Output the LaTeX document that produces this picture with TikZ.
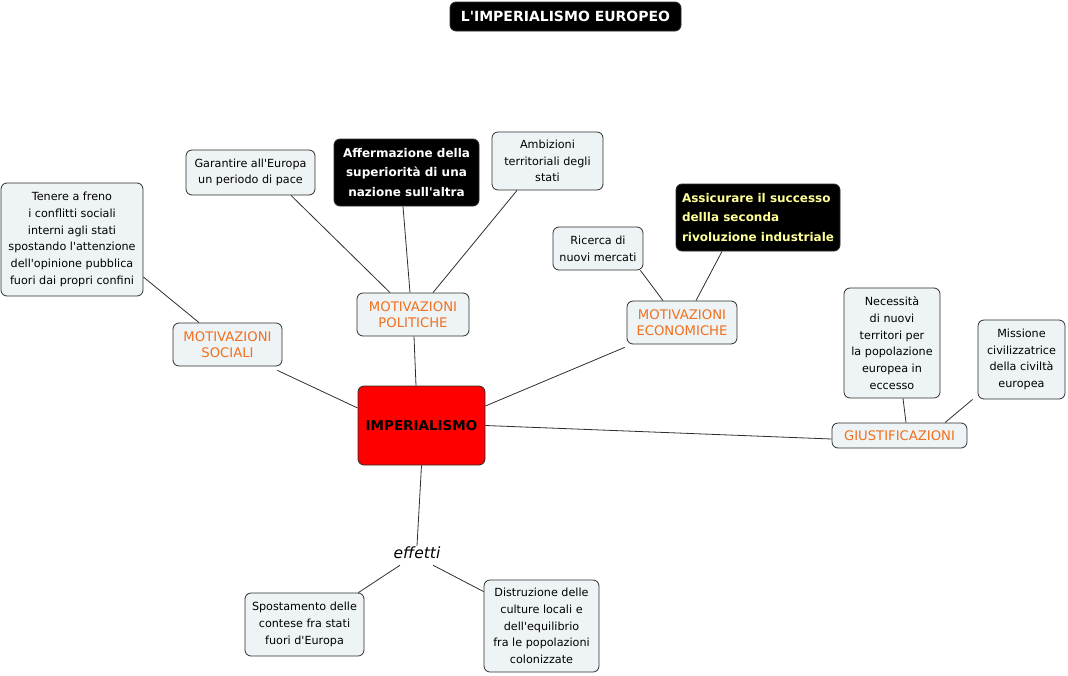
\documentclass[tikz,border=0pt]{standalone}
\usepackage{fontspec}
\setmainfont{DejaVu Sans}
\usetikzlibrary{calc}
\newcommand{\ap}{\textquotesingle}
\definecolor{boxfill}{HTML}{EEF3F5}
\definecolor{boxline}{HTML}{2E2E2E}
\definecolor{orangetxt}{HTML}{F0701E}
\definecolor{yellowtxt}{HTML}{FFFF99}
\tikzset{
  base/.style={rounded corners=6pt, draw=boxline, line width=0.8pt, inner sep=0pt, align=center,
    font=\fontsize{11.2}{16.8}\selectfont},
  lightbox/.style={base, fill=boxfill, text=black},
  catbox/.style={base, fill=boxfill, text=orangetxt, font=\fontsize{13.2}{16}\selectfont},
  darkbox/.style={base, fill=black, text=white, font=\bfseries\fontsize{12}{19.5}\selectfont},
  link/.style={draw=boxline, line width=0.8pt},
}
\begin{document}
\begin{tikzpicture}[x=1pt,y=-1pt]
\useasboundingbox (0,0) rectangle (1068,675);
% title
\node[base, fill=black, text=white, font=\bfseries\fontsize{14}{16}\selectfont,
  minimum width=231pt, minimum height=29pt] (title) at (565.5,16.5) {L\ap IMPERIALISMO EUROPEO};
% nodes
\node[lightbox, minimum width=142pt, minimum height=113pt] (ten) at (72,239.5)
  {Tenere a freno\\i conflitti sociali\\interni agli stati\\spostando l\ap attenzione\\dell\ap opinione pubblica\\fuori dai propri confini};
\node[lightbox, minimum width=129pt, minimum height=45pt] (gar) at (250.5,172.5)
  {Garantire all\ap Europa\\un periodo di pace};
\node[darkbox, minimum width=145pt, minimum height=67pt] (aff) at (406.5,172.5)
  {Affermazione della\\superiorità di una\\nazione sull\ap altra};
\node[lightbox, minimum width=111pt, minimum height=58pt] (amb) at (547.5,161)
  {Ambizioni\\territoriali degli\\stati};
\node[catbox, minimum width=112pt, minimum height=43pt] (pol) at (413,314.5)
  {MOTIVAZIONI\\POLITICHE};
\node[catbox, minimum width=109pt, minimum height=43pt] (soc) at (227.5,344.5)
  {MOTIVAZIONI\\SOCIALI};
\node[lightbox, minimum width=90pt, minimum height=43pt] (ric) at (598,248.5)
  {Ricerca di\\nuovi mercati};
\node[darkbox, text=yellowtxt, align=left, minimum width=164pt, minimum height=67pt] (ass) at (758,217.5)
  {Assicurare il successo\\dellla seconda\\rivoluzione industriale};
\node[catbox, minimum width=110pt, minimum height=43pt] (eco) at (682,322.5)
  {MOTIVAZIONI\\ECONOMICHE};
\node[lightbox, minimum width=96pt, minimum height=110pt] (nec) at (892,343)
  {Necessità\\di nuovi\\territori per\\la popolazione\\europea in\\eccesso};
\node[lightbox, minimum width=87pt, minimum height=79pt] (mis) at (1021.5,359.5)
  {Missione\\civilizzatrice\\della civiltà\\europea};
\node[catbox, minimum width=135pt, minimum height=25pt] (giu) at (899.5,435.5)
  {GIUSTIFICAZIONI};
\node[base, fill=red, text=black, font=\bfseries\fontsize{13.5}{15}\selectfont,
  minimum width=127pt, minimum height=79pt] (imp) at (421.5,425.5) {IMPERIALISMO};
\node[inner sep=1pt, font=\itshape\fontsize{15.5}{17}\selectfont] (eff) at (417,553) {effetti};
\node[lightbox, minimum width=119pt, minimum height=63pt] (spo) at (304.5,624.5)
  {Spostamento delle\\contese fra stati\\fuori d\ap Europa};
\node[lightbox, minimum width=115pt, minimum height=92pt] (dis) at (541.5,626)
  {Distruzione delle\\culture locali e\\dell\ap equilibrio\\fra le popolazioni\\colonizzate};
% connectors
\draw[link] ([yshift=-37.5pt]ten.east) -- ([xshift=-28.5pt]soc.north);
\draw[link] ([yshift=-4pt,xshift=-5pt]soc.south east) -- ([yshift=17.5pt]imp.west);
\draw[link] ([xshift=40.5pt]gar.south) -- ([xshift=-23pt]pol.north);
\draw[link] ([xshift=-3.5pt]aff.south) -- ([xshift=-3pt]pol.north);
\draw[link] ([xshift=-30.5pt]amb.south) -- ([xshift=20pt]pol.north);
\draw[link] ([xshift=1pt]pol.south) -- ([xshift=-5.5pt]imp.north);
\draw[link] ([xshift=-3pt]ric.south east) -- ([xshift=-19pt]eco.north);
\draw[link] ([xshift=-36pt]ass.south) -- ([xshift=14pt]eco.north);
\draw[link] ([xshift=-2pt,yshift=-3pt]eco.south west) -- ([yshift=19.5pt]imp.east);
\draw[link] (imp.east) -- ([yshift=-3.5pt]giu.west);
\draw[link] ([xshift=11pt]nec.south) -- ([xshift=6.5pt]giu.north);
\draw[link] ([xshift=-5pt]mis.south west) -- ([xshift=45.5pt]giu.north);
\draw[link] (imp.south) -- (eff.north);
\draw[link] ([xshift=-17pt,yshift=-5pt]eff.south) -- ([xshift=-6pt]spo.north east);
\draw[link] ([xshift=16pt,yshift=-5pt]eff.south) -- ([yshift=-12pt]dis.north west);
\end{tikzpicture}
\end{document}
